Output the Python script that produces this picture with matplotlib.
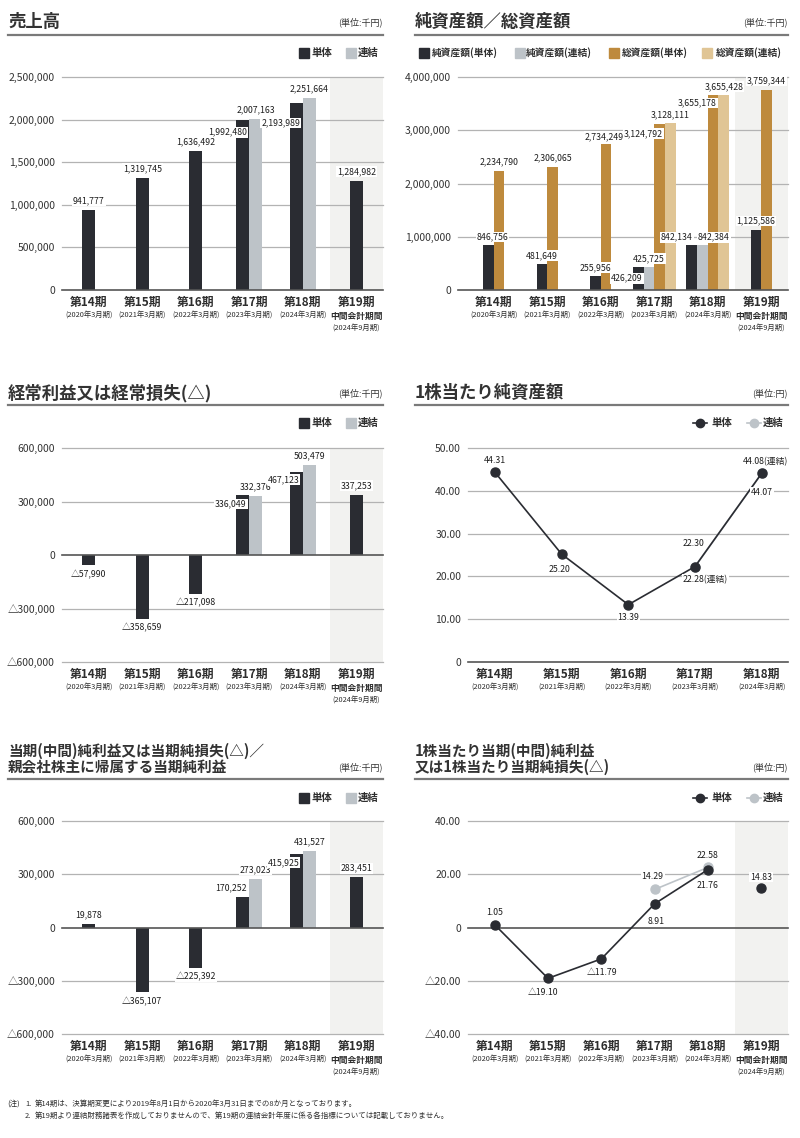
import matplotlib
matplotlib.use("Agg")
import matplotlib.pyplot as plt
from matplotlib.lines import Line2D
from matplotlib.patches import Rectangle
import numpy as np

plt.rcParams['font.family'] = ['Noto Sans CJK JP', 'DejaVu Sans']

W, H = 800, 1138
NUM_FONT = ['Noto Sans CJK JP', 'DejaVu Sans']

# ---------------- data ----------------
periods = ['第14期', '第15期', '第16期', '第17期', '第18期', '第19期']
period_sub = ['(2020年3月期)', '(2021年3月期)', '(2022年3月期)', '(2023年3月期)', '(2024年3月期)', '中間会計期間']
period_sub2 = ['', '', '', '', '', '(2024年9月期)']

sales_single = [941777, 1319745, 1636492, 1992480, 2193989, 1284982]
sales_consol = [None, None, None, 2007163, 2251664, None]

net_assets_single = [846756, 481649, 255956, 426209, 842134, 1125586]
net_assets_consol = [None, None, None, 425725, 842384, None]
total_assets_single = [2234790, 2306065, 2734249, 3124792, 3655178, 3759344]
total_assets_consol = [None, None, None, 3128111, 3655428, None]

ordinary_single = [-57990, -358659, -217098, 336049, 467123, 337253]
ordinary_consol = [None, None, None, 332376, 503479, None]

bps_single = [44.31, 25.20, 13.39, 22.30, 44.07]
bps_consol = [None, None, None, 22.28, 44.08]

net_income_single = [19878, -365107, -225392, 170252, 415925, 283451]
net_income_consol = [None, None, None, 273023, 431527, None]

eps_single = [1.05, -19.10, -11.79, 8.91, 21.76, 14.83]
eps_consol = [None, None, None, 14.29, 22.58, None]

yt_sales = [0, 500000, 1000000, 1500000, 2000000, 2500000]
yt_assets = [0, 1000000, 2000000, 3000000, 4000000]
yt_profit = [-600000, -300000, 0, 300000, 600000]
yt_bps = [0, 10, 20, 30, 40, 50]
yt_eps = [-40, -20, 0, 20, 40]

legend_bar = ['単体', '連結']
legend_assets = ['純資産額(単体)', '純資産額(連結)', '総資産額(単体)', '総資産額(連結)']

notes = ['第14期は、決算期変更により2019年8月1日から2020年3月31日までの8か月となっております。',
         '第19期より連結財務諸表を作成しておりませんので、第19期の連結会計年度に係る各指標については記載しておりません。']

# ---------------- styles ----------------
C_DARK = '#2a2c32'
C_LIGHT = '#bdc3c8'
C_GOLD = '#be8a3d'
C_TAN = '#e0c595'
C_SHADE = '#f2f2f0'
C_GRID = '#b3b3b3'
C_ZERO = '#555555'
C_TEXT = '#2e2e2e'
VAL_SIZE = 6.3

fig = plt.figure(figsize=(W / 100, H / 100), dpi=100)


def fx(x):
    return x / W


def fy(y):
    return 1 - y / H


def add_ax(x0, x1, y0, y1):
    return fig.add_axes([fx(x0), fy(y1), (x1 - x0) / W, (y1 - y0) / H])


def fmt_int(v):
    if v == 0:
        return '0'
    s = f"{abs(int(v)):,}"
    return ('△' + s) if v < 0 else s


def fmt_float(v):
    if v == 0:
        return '0'
    s = f"{abs(v):.2f}"
    return ('△' + s) if v < 0 else s


def header(x0, x1, lines, ys, size, unit, y_unit, y_line):
    for t, y in zip(lines, ys):
        fig.text(fx(x0), fy(y), t, fontsize=size, fontweight='bold', ha='left', va='center', color='#333333')
    fig.text(fx(x1), fy(y_unit), unit, fontsize=6.5, ha='right', va='center', color='#333333')
    fig.add_artist(Line2D([fx(x0), fx(x1)], [fy(y_line)] * 2, color='#7a7a7a', lw=1.6))


def legend_squares(items, colors, xs_sq, xs_tx, y, size=7.5):
    for t, c, xs, xt in zip(items, colors, xs_sq, xs_tx):
        fig.add_artist(Rectangle((fx(xs), fy(y + 5)), 10 / W, 10 / H, color=c, transform=fig.transFigure))
        fig.text(fx(xt), fy(y), t, fontsize=size, fontweight='bold', ha='left', va='center', color=C_TEXT)


def legend_lines(items, colors, xs_ln, xs_tx, y):
    for t, c, xl, xt in zip(items, colors, xs_ln, xs_tx):
        fig.add_artist(Line2D([fx(xl), fx(xl + 14)], [fy(y)] * 2, color=c, lw=1.2,
                              transform=fig.transFigure))
        fig.add_artist(Line2D([fx(xl + 7)], [fy(y)], color=c, marker='o', ms=6,
                              transform=fig.transFigure))
        fig.text(fx(xt), fy(y), t, fontsize=7.5, fontweight='bold', ha='left', va='center', color=C_TEXT)


def setup_axis(ax, yticks, fmt, xlim, shade=True):
    ax.set_xlim(*xlim)
    ax.set_ylim(yticks[0], yticks[-1])
    for s in ax.spines.values():
        s.set_visible(False)
    ax.set_xticks([])
    ax.set_yticks(yticks)
    ax.set_yticklabels([fmt(t) for t in yticks])
    ax.tick_params(axis='y', length=0, pad=5, labelsize=7.5, labelcolor='#333333')
    ax.set_facecolor('none')
    for t in yticks:
        if t == 0:
            ax.axhline(t, color=C_ZERO, lw=1.2, zorder=3.5, clip_on=False)
        else:
            ax.axhline(t, color=C_GRID, lw=0.9, zorder=1, clip_on=False)
    if shade:
        ax.axvspan(4.5, 5.5, color=C_SHADE, zorder=0, lw=0)


def cat_labels(ax, n):
    tr = ax.get_xaxis_transform()
    for i in range(n):
        ax.annotate(periods[i], xy=(i, 0), xycoords=tr, xytext=(0, -12), textcoords='offset pixels',
                    ha='center', va='center', fontsize=8.5, fontweight='bold', color=C_TEXT, annotation_clip=False)
        sub = period_sub[i]
        if sub == '中間会計期間':
            ax.annotate(sub, xy=(i, 0), xycoords=tr, xytext=(0, -26), textcoords='offset pixels',
                        ha='center', va='center', fontsize=6.3, fontweight='bold', color=C_TEXT, annotation_clip=False)
        else:
            ax.annotate(sub, xy=(i, 0), xycoords=tr, xytext=(0, -26), textcoords='offset pixels',
                        ha='center', va='center', fontsize=5.3, color=C_TEXT, annotation_clip=False)
        if period_sub2[i]:
            ax.annotate(period_sub2[i], xy=(i, 0), xycoords=tr, xytext=(0, -39), textcoords='offset pixels',
                        ha='center', va='center', fontsize=5.3, color=C_TEXT, annotation_clip=False)


def value_label(ax, x, v, text, dx, dy, ha, z=6):
    ax.annotate(text, xy=(x, v), xytext=(dx, dy), textcoords='offset pixels', ha=ha, va='center',
                fontsize=VAL_SIZE, family=NUM_FONT, color='#1e1e1e', zorder=z,
                bbox=dict(boxstyle='square,pad=0.1', fc='white', ec='none'), annotation_clip=False)


def draw_bars(ax, series_list, colors, width, offsets):
    n = len(periods)
    for i in range(n):
        present = [k for k, s in enumerate(series_list) if s[i] is not None]
        m = len(present)
        for j, k in enumerate(present):
            x = i + (j - (m - 1) / 2) * width
            v = series_list[k][i]
            ax.bar(x, v, width=width, color=colors[k], zorder=3, lw=0)
            dflt = (0, 9, 'center') if v >= 0 else (0, -9, 'center')
            dx, dy, ha = offsets.get((k, i), dflt)
            value_label(ax, x, v, fmt_int(v), dx, dy, ha, z=6 + 0.01 * (i * 4 + k))


# ---------------- Panel 1: 売上高 ----------------
header(8, 383, ['売上高'], [22], 12.5, '(単位:千円)', 22, 35)
legend_squares(legend_bar, [C_DARK, C_LIGHT], [299, 346], [311, 358], 53)
ax1 = add_ax(62, 383, 77, 290)
setup_axis(ax1, yt_sales, fmt_int, (-0.5, 5.5))
draw_bars(ax1, [sales_single, sales_consol], [C_DARK, C_LIGHT], 0.245,
          {(0, 3): (4, -12, 'right'), (0, 4): (4, -20, 'right')})
cat_labels(ax1, 6)

# ---------------- Panel 2: 純資産額／総資産額 ----------------
header(415, 788, ['純資産額／総資産額'], [22], 12.5, '(単位:千円)', 22, 35)
legend_squares(legend_assets, [C_DARK, C_LIGHT, C_GOLD, C_TAN], [419, 515, 609, 702],
               [432, 526, 622, 716], 53, size=7)
ax2 = add_ax(458, 788, 77, 290)
setup_axis(ax2, yt_assets, fmt_int, (5.5 - 330 / 53.5, 5.5))
draw_bars(ax2, [net_assets_single, net_assets_consol, total_assets_single, total_assets_consol],
          [C_DARK, C_LIGHT, C_GOLD, C_TAN], 0.2,
          {(0, 0): (4, 8, 'center'), (2, 2): (-2, 8, 'center'), (0, 3): (4.5, -11, 'right'),
           (2, 3): (3.5, -10, 'right'),
           (0, 4): (1, 8, 'right'), (1, 4): (-4.6, 8, 'left'), (2, 4): (3.6, -7.6, 'right')})
cat_labels(ax2, 6)

# ---------------- Panel 3: 経常利益 ----------------
header(8, 383, ['経常利益又は経常損失(△)'], [393], 12.5, '(単位:千円)', 393, 405)
legend_squares(legend_bar, [C_DARK, C_LIGHT], [299, 346], [311, 358], 423)
ax3 = add_ax(62, 383, 448, 662)
setup_axis(ax3, yt_profit, fmt_int, (-0.5, 5.5))
draw_bars(ax3, [ordinary_single, ordinary_consol], [C_DARK, C_LIGHT], 0.245,
          {(0, 3): (4, -9, 'right'), (0, 4): (3, -8, 'right')})
cat_labels(ax3, 6)

# ---------------- Panel 4: 1株当たり純資産額 ----------------
header(415, 788, ['1株当たり純資産額'], [393], 12.5, '(単位:円)', 393, 405)
legend_lines(legend_bar, [C_DARK, C_LIGHT], [693, 747], [712, 763], 423)
ax4 = add_ax(468, 788, 448, 662)
setup_axis(ax4, yt_bps, fmt_float, (-0.405, 4.395), shade=False)
xs4 = np.arange(len(bps_single))
bc = np.array([np.nan if v is None else v for v in bps_consol], dtype=float)
ax4.plot(xs4, bc, color=C_LIGHT, lw=1.2, marker='o', ms=6.5, zorder=4, clip_on=False)
ax4.plot(xs4, bps_single, color=C_DARK, lw=1.2, marker='o', ms=6.5, zorder=5, clip_on=False)
off4s = {0: (0, 12, 'center'), 1: (-2, -15, 'center'), 2: (0, -13, 'center'), 3: (-2, 23, 'center'),
         4: (0, -19, 'center')}
for i, v in enumerate(bps_single):
    dx, dy, ha = off4s[i]
    value_label(ax4, i, v, fmt_float(v), dx, dy, ha)
off4c = {3: (-12, -13, 'left'), 4: (-19, 12, 'left')}
for i, v in enumerate(bps_consol):
    if v is not None:
        dx, dy, ha = off4c[i]
        value_label(ax4, i, v, fmt_float(v) + '(連結)', dx, dy, ha)
cat_labels(ax4, 5)

# ---------------- Panel 5: 当期純利益 ----------------
header(8, 383, ['当期(中間)純利益又は当期純損失(△)／', '親会社株主に帰属する当期純利益'], [751, 767], 10.5,
       '(単位:千円)', 767, 779)
legend_squares(legend_bar, [C_DARK, C_LIGHT], [299, 346], [311, 358], 798)
ax5 = add_ax(62, 383, 821, 1034)
setup_axis(ax5, yt_profit, fmt_int, (-0.5, 5.5))
draw_bars(ax5, [net_income_single, net_income_consol], [C_DARK, C_LIGHT], 0.245,
          {(0, 3): (4, 9, 'right'), (0, 4): (3, -9, 'right')})
cat_labels(ax5, 6)

# ---------------- Panel 6: 1株当たり当期純利益 ----------------
header(415, 788, ['1株当たり当期(中間)純利益', '又は1株当たり当期純損失(△)'], [751, 767], 10.5,
       '(単位:円)', 767, 779)
legend_lines(legend_bar, [C_DARK, C_LIGHT], [693, 747], [712, 763], 798)
ax6 = add_ax(468, 788, 821, 1034)
setup_axis(ax6, yt_eps, fmt_float, (-0.5, 5.5))
ec = np.array([np.nan if v is None else v for v in eps_consol], dtype=float)
xs6 = np.arange(len(eps_single))
ax6.plot(xs6, ec, color=C_LIGHT, lw=1.2, marker='o', ms=6.5, zorder=4)
ax6.plot(xs6[:5], eps_single[:5], color=C_DARK, lw=1.2, marker='o', ms=6.5, zorder=5)
ax6.plot(xs6[5:], eps_single[5:], color=C_DARK, lw=0, marker='o', ms=6.5, zorder=5)
off6s = {0: (0, 12, 'center'), 1: (-5, -14, 'center'), 2: (1, -13.5, 'center'), 3: (1, -18, 'center'),
         4: (0, -16, 'center'), 5: (0, 11, 'center')}
for i, v in enumerate(eps_single):
    dx, dy, ha = off6s[i]
    value_label(ax6, i, v, fmt_float(v), dx, dy, ha)
off6c = {3: (-2, 13, 'center'), 4: (0, 11.6, 'center')}
for i, v in enumerate(eps_consol):
    if v is not None:
        dx, dy, ha = off6c[i]
        value_label(ax6, i, v, fmt_float(v), dx, dy, ha)
cat_labels(ax6, 6)

# ---------------- notes ----------------
NOTE_SIZE = 5.4
fig.text(fx(7), fy(1104), '(注)', fontsize=NOTE_SIZE, ha='left', va='center', color=C_TEXT)
fig.text(fx(25), fy(1104), '1.', fontsize=NOTE_SIZE, ha='left', va='center', color=C_TEXT)
fig.text(fx(35), fy(1104), notes[0], fontsize=NOTE_SIZE, ha='left', va='center', color=C_TEXT)
fig.text(fx(25), fy(1116), '2.', fontsize=NOTE_SIZE, ha='left', va='center', color=C_TEXT)
fig.text(fx(35), fy(1116), notes[1], fontsize=NOTE_SIZE, ha='left', va='center', color=C_TEXT)

fig.savefig('out.png', dpi=100, facecolor='white')
